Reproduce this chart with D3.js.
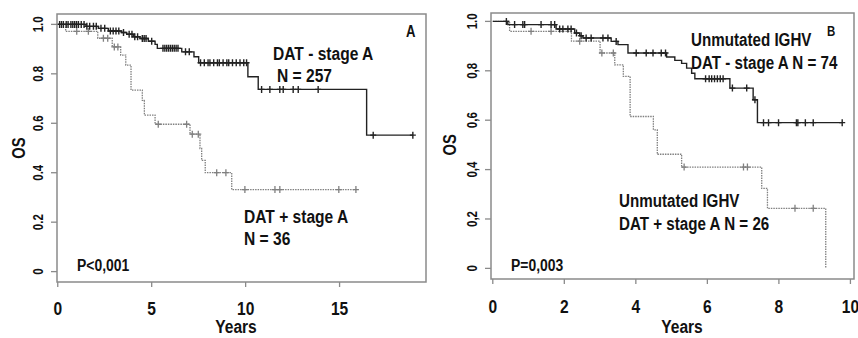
<!DOCTYPE html>
<html lang="en">
<head>
    <meta charset="UTF-8">
    <title>OS by DAT status, stage A</title>
    <script src="https://d3js.org/d3.v7.min.js"></script>
    <style>
        body {
            background-color: white;
            margin: 0;
            padding: 0;
        }
        svg text {
            font-family: 'Liberation Sans', Arial, sans-serif;
            font-weight: bold;
            fill: #111;
        }
        .frame {
            fill: none;
            stroke: #8a8a8a;
            stroke-width: 1.5px;
        }
        .tick {
            stroke: #8a8a8a;
            stroke-width: 1.3px;
        }
        .neg {
            fill: none;
            stroke: #222;
            stroke-width: 1.4px;
        }
        .pos {
            fill: none;
            stroke: #808080;
            stroke-width: 1.3px;
            stroke-dasharray: 1.5,1;
        }
    </style>
</head>
<body>
<script>
    // ---- panel A: all stage A ----
    var aNegTime = [0, 1.5, 2.16, 2.69, 3.40, 3.67, 4.02, 4.38, 4.82, 5.18, 5.3, 6.6, 7.25, 7.5, 10.12, 10.67, 16.44];
    var aNegSurv = [1.0, 0.992, 0.984, 0.973, 0.967, 0.960, 0.950, 0.943, 0.932, 0.919, 0.903, 0.889, 0.869, 0.845, 0.788, 0.737, 0.552];
    var aNegEnd = 18.9;
    var aNegCens = [0.1, 0.2, 0.3, 0.45, 0.55, 0.7, 0.8, 0.9, 1.0, 1.1, 1.25, 1.4, 1.55, 1.7, 1.9, 2.05, 2.3, 2.5,
        2.8, 2.95, 3.1, 3.25, 3.5, 3.8, 3.95, 4.1, 4.25, 4.5, 4.6, 4.7, 5.0, 5.6, 5.7, 5.8, 5.9, 6.0, 6.1, 6.2,
        6.3, 6.4, 6.8, 7.0, 7.6, 7.8, 8.0, 8.1, 8.3, 8.5, 8.6, 8.8, 9.0, 9.1, 9.3, 9.5, 9.7, 9.9, 10.05,
        10.85, 11.29, 11.82, 12.0, 12.53, 12.8, 13.86, 16.79, 18.9];

    var aPosTime = [0, 0.42, 2.13, 2.9, 3.35, 3.62, 3.90, 4.50, 4.61, 5.18, 7.04, 7.57, 7.66, 7.85, 9.26];
    var aPosSurv = [1.0, 0.972, 0.944, 0.909, 0.876, 0.835, 0.734, 0.693, 0.633, 0.596, 0.556, 0.498, 0.45, 0.40, 0.332];
    var aPosEnd = 15.87;
    var aPosCens = [1.01, 1.63, 2.43, 2.66, 3.01, 3.2, 5.35, 6.86, 7.16, 7.48, 8.46, 8.95, 9.96, 11.56, 11.82, 14.96, 15.87];

    // ---- panel B: unmutated IGHV ----
    var bNegTime = [0, 0.42, 1.77, 2.29, 2.43, 2.52, 3.31, 3.50, 3.78, 4.86, 5.09, 5.28, 5.42, 5.56, 5.65, 6.63, 7.28, 7.40];
    var bNegSurv = [1.0, 0.987, 0.969, 0.953, 0.942, 0.933, 0.919, 0.906, 0.872, 0.856, 0.842, 0.83, 0.811, 0.79, 0.768, 0.73, 0.683, 0.59];
    var bNegEnd = 9.77;
    var bNegCens = [0.38, 0.61, 0.84, 0.89, 1.35, 1.63, 1.73, 1.87, 1.96, 2.10, 2.19, 2.34, 2.47, 2.61, 2.75, 3.08,
        3.22, 3.45, 4.01, 4.29, 4.48, 4.71, 4.83, 5.95, 6.05, 6.12, 6.2, 6.28, 6.36, 6.44, 6.7, 7.1, 7.33,
        7.57, 7.71, 7.99, 8.49, 8.53, 8.74, 8.96, 9.77];

    var bPosTime = [0, 0.47, 2.2, 3.0, 3.41, 3.65, 3.84, 4.49, 4.60, 5.28, 7.52, 7.68, 9.31];
    var bPosSurv = [1.0, 0.96, 0.92, 0.872, 0.824, 0.777, 0.615, 0.561, 0.462, 0.41, 0.324, 0.243, 0.0];
    var bPosEnd = 9.31;
    var bPosCens = [1.07, 1.63, 2.43, 3.05, 3.37, 5.35, 7.01, 7.12, 8.45, 8.96];

    var aYLabels = ["0", "0.2", "0.4", "0.6", "0.8", "1.0"];
    var bYLabels = ["0", "0,2", "0,4", "0,6", "0,8", "1.0"];
    var yTicks = [0, 0.2, 0.4, 0.6, 0.8, 1.0];
    var aXTicks = [0, 5, 10, 15];
    var bXTicks = [0, 2, 4, 6, 8, 10];

    var svg = d3.select("body").append("svg")
        .attr("width", 858)
        .attr("height", 338);

    // condensed bold text, like the Arial Narrow of the original figure
    function label(g, x, y, str, size, anchor, rot) {
        return g.append("text")
            .attr("transform", "translate(" + x + "," + y + ")" + (rot ? " rotate(" + rot + ")" : "") + " scale(0.82,1)")
            .attr("text-anchor", anchor || "start")
            .style("font-size", size + "px")
            .text(str);
    }

    function panel(opt) {
        var x = d3.scaleLinear().domain(opt.xDomain).range([opt.left, opt.right]);
        var y = d3.scaleLinear().domain(opt.yDomain).range([opt.bottom, opt.top]);
        var g = svg.append("g");

        // y ticks + rotated labels
        yTicks.forEach(function(v, i) {
            g.append("line").attr("class", "tick")
                .attr("x1", opt.left - 6).attr("x2", opt.left)
                .attr("y1", y(v)).attr("y2", y(v));
            label(g, opt.left - 14, y(v), opt.yLabels[i], 14, "middle", -90);
        });
        label(g, opt.osX, y(0.5), "OS", 18, "middle", -90);

        // x ticks
        opt.xTicks.forEach(function(v) {
            g.append("line").attr("class", "tick")
                .attr("x1", x(v)).attr("x2", x(v))
                .attr("y1", opt.bottom).attr("y2", opt.bottom + 5);
            label(g, x(v), opt.tickBase, v, 19, "middle");
        });
        label(g, opt.yearsX, opt.yearsBase, "Years", 19, "middle");

        // curves
        opt.curves.forEach(function(c) {
            var pts = c.time.map(function(t, i) { return [t, c.surv[i]]; });
            if (c.end > c.time[c.time.length - 1]) pts.push([c.end, c.surv[c.surv.length - 1]]);
            var line = d3.line()
                .x(function(d) { return x(d[0]); })
                .y(function(d) { return y(d[1]); })
                .curve(d3.curveStepAfter);
            g.append("path").attr("class", c.cls).attr("d", line(pts));

            var survAt = function(t) {
                var s = c.surv[0];
                c.time.forEach(function(tt, i) { if (tt <= t) s = c.surv[i]; });
                return s;
            };
            var cg = g.append("g").attr("class", c.cls).style("stroke-dasharray", "none");
            c.cens.forEach(function(t) {
                var cx = x(t), cy = y(survAt(t));
                cg.append("path")
                    .attr("d", "M" + (cx - 3) + "," + cy + "H" + (cx + 3) + "M" + cx + "," + (cy - 3.5) + "V" + (cy + 3.5));
            });
        });

        g.append("rect").attr("class", "frame")
            .attr("x", opt.left).attr("y", opt.top)
            .attr("width", opt.right - opt.left).attr("height", opt.bottom - opt.top);

        opt.notes.forEach(function(n) {
            label(g, n[0], n[1], n[2], n[3]);
        });
    }

    panel({
        left: 57, right: 426, top: 14, bottom: 282,
        xDomain: [-0.04, 19.6], yDomain: [-0.042, 1.042],
        yLabels: aYLabels, xTicks: aXTicks,
        osX: 25, tickBase: 315, yearsX: 236, yearsBase: 333,
        curves: [
            { cls: "pos", time: aPosTime, surv: aPosSurv, end: aPosEnd, cens: aPosCens },
            { cls: "neg", time: aNegTime, surv: aNegSurv, end: aNegEnd, cens: aNegCens }
        ],
        notes: [
            [406, 37, "A", 16],
            [273, 60, "DAT - stage A", 19],
            [277, 82, "N = 257", 19],
            [244, 223, "DAT + stage A", 19],
            [244, 245, "N = 36", 19],
            [77, 271, "P<0,001", 17]
        ]
    });

    panel({
        left: 491, right: 854, top: 13, bottom: 279,
        xDomain: [-0.05, 10.1], yDomain: [-0.043, 1.034],
        yLabels: bYLabels, xTicks: bXTicks,
        osX: 456, tickBase: 313, yearsX: 682, yearsBase: 333,
        curves: [
            { cls: "pos", time: bPosTime, surv: bPosSurv, end: bPosEnd, cens: bPosCens },
            { cls: "neg", time: bNegTime, surv: bNegSurv, end: bNegEnd, cens: bNegCens }
        ],
        notes: [
            [827, 36, "B", 14],
            [691, 46, "Unmutated IGHV", 18.5],
            [691, 69, "DAT - stage A N = 74", 18.5],
            [619, 207, "Unmutated IGHV", 18.5],
            [619, 230, "DAT + stage A N = 26", 18.5],
            [511, 271, "P=0,003", 17]
        ]
    });
</script>
</body>
</html>
